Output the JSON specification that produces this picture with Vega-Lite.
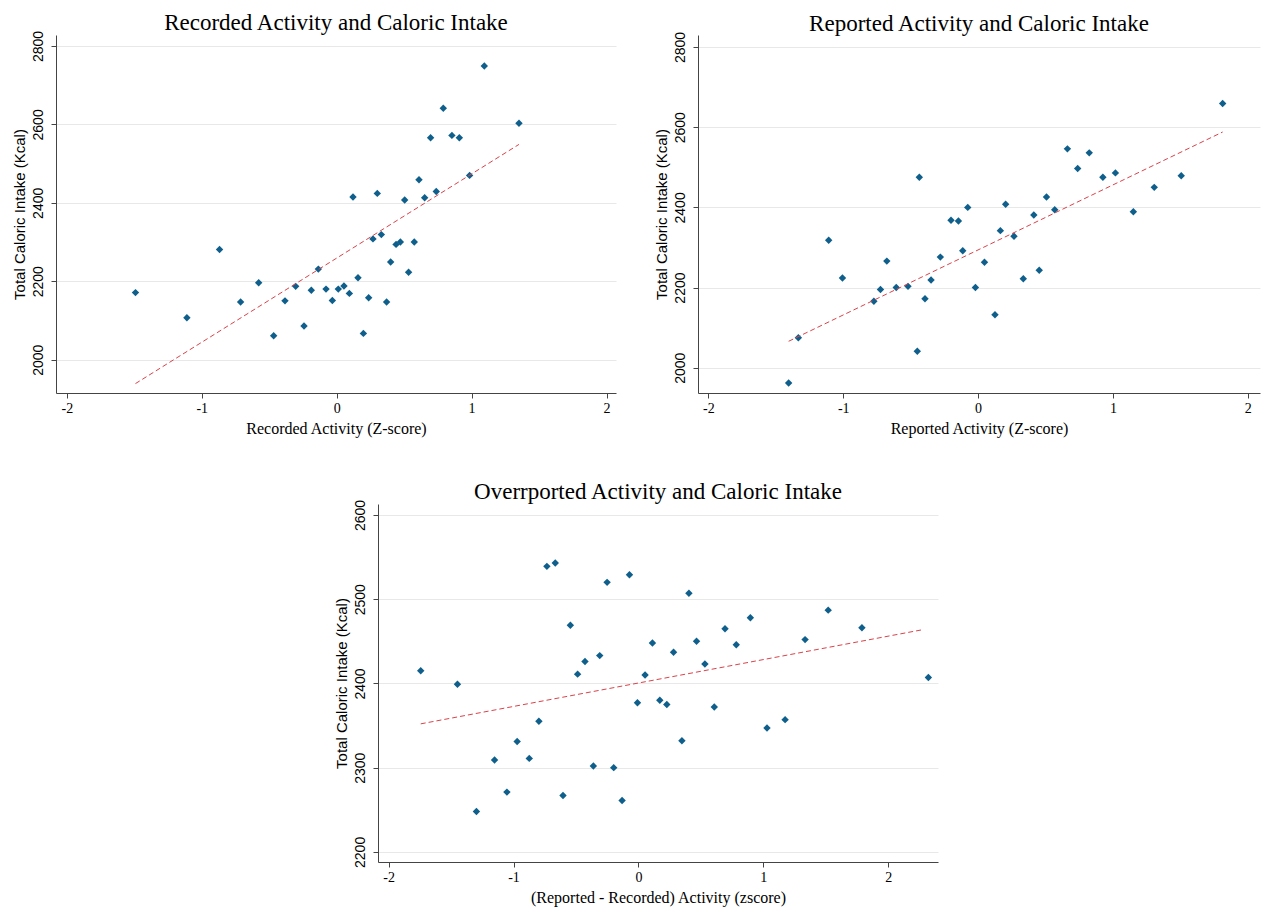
{
  "$schema": "https://vega.github.io/schema/vega-lite/v6.json",
  "background": "white",
  "padding": {"left": 12, "top": 12, "right": 2, "bottom": 2},
  "config": {
    "view": {"stroke": null},
    "axis": {"domainColor": "#444444", "tickColor": "#444444", "gridColor": "#e8e8e8", "labelColor": "#000000", "titleColor": "#000000", "titleFontWeight": "normal", "tickSize": 5},
    "axisX": {"labelFont": "Liberation Serif", "labelFontSize": 14, "titleFont": "Liberation Serif", "titleFontSize": 16, "grid": false, "labelPadding": 3, "titlePadding": 5},
    "axisY": {"labelFont": "Liberation Sans", "labelFontSize": 14, "titleFont": "Liberation Sans", "titleFontSize": 15, "labelAngle": -90, "labelAlign": "center", "labelBaseline": "bottom", "labelPadding": 6, "titlePadding": 4, "grid": true},
    "title": {"font": "Liberation Serif", "fontSize": 23, "fontWeight": "normal", "color": "#000000", "offset": -5, "frame": "group", "baseline": "alphabetic"}
  },
  "datasets": {
    "p1": [
      {"x": -1.491, "y": 2171}, {"x": -1.110, "y": 2107}, {"x": -0.868, "y": 2281}, {"x": -0.712, "y": 2147}, {"x": -0.578, "y": 2196},
      {"x": -0.467, "y": 2061}, {"x": -0.383, "y": 2150}, {"x": -0.304, "y": 2187}, {"x": -0.242, "y": 2086}, {"x": -0.188, "y": 2177},
      {"x": -0.136, "y": 2231}, {"x": -0.079, "y": 2180}, {"x": -0.032, "y": 2151}, {"x": 0.012, "y": 2180}, {"x": 0.054, "y": 2188},
      {"x": 0.094, "y": 2169}, {"x": 0.158, "y": 2209}, {"x": 0.121, "y": 2415}, {"x": 1.094, "y": 2749}, {"x": 0.790, "y": 2641},
      {"x": 1.351, "y": 2603}, {"x": 0.696, "y": 2566}, {"x": 0.854, "y": 2572}, {"x": 0.909, "y": 2566}, {"x": 0.610, "y": 2459},
      {"x": 0.985, "y": 2470}, {"x": 0.738, "y": 2429}, {"x": 0.301, "y": 2424}, {"x": 0.504, "y": 2407}, {"x": 0.652, "y": 2413},
      {"x": 0.331, "y": 2319}, {"x": 0.269, "y": 2308}, {"x": 0.440, "y": 2294}, {"x": 0.472, "y": 2300}, {"x": 0.575, "y": 2300},
      {"x": 0.400, "y": 2249}, {"x": 0.533, "y": 2223}, {"x": 0.237, "y": 2158}, {"x": 0.370, "y": 2147}, {"x": 0.198, "y": 2067}
    ],
    "f1": [{"x": -1.491, "y": 1939}, {"x": 1.351, "y": 2549}],
    "p2": [
      {"x": -1.405, "y": 1962}, {"x": -1.333, "y": 2075}, {"x": -1.108, "y": 2318}, {"x": -1.006, "y": 2224}, {"x": -0.773, "y": 2166},
      {"x": -0.724, "y": 2195}, {"x": -0.677, "y": 2266}, {"x": -0.607, "y": 2200}, {"x": -0.520, "y": 2203}, {"x": -0.436, "y": 2475},
      {"x": -0.451, "y": 2041}, {"x": -0.394, "y": 2172}, {"x": -0.349, "y": 2219}, {"x": -0.280, "y": 2276}, {"x": -0.201, "y": 2368},
      {"x": -0.146, "y": 2366}, {"x": -0.114, "y": 2292}, {"x": -0.077, "y": 2400}, {"x": -0.020, "y": 2200}, {"x": 1.813, "y": 2659},
      {"x": 0.662, "y": 2546}, {"x": 0.824, "y": 2536}, {"x": 0.738, "y": 2497}, {"x": 0.925, "y": 2475}, {"x": 1.018, "y": 2486},
      {"x": 1.506, "y": 2479}, {"x": 1.306, "y": 2450}, {"x": 1.151, "y": 2389}, {"x": 0.507, "y": 2426}, {"x": 0.568, "y": 2394},
      {"x": 0.413, "y": 2381}, {"x": 0.204, "y": 2408}, {"x": 0.165, "y": 2342}, {"x": 0.266, "y": 2328}, {"x": 0.047, "y": 2263},
      {"x": 0.453, "y": 2243}, {"x": 0.335, "y": 2222}, {"x": 0.125, "y": 2132}
    ],
    "f2": [{"x": -1.405, "y": 2066}, {"x": 1.813, "y": 2588}],
    "p3": [
      {"x": -1.743, "y": 2415}, {"x": -1.449, "y": 2399}, {"x": -1.297, "y": 2248}, {"x": -1.152, "y": 2309}, {"x": -1.053, "y": 2271},
      {"x": -0.971, "y": 2331}, {"x": -0.874, "y": 2311}, {"x": -0.797, "y": 2355}, {"x": -0.733, "y": 2539}, {"x": -0.666, "y": 2543},
      {"x": -0.604, "y": 2267}, {"x": -0.545, "y": 2469}, {"x": -0.487, "y": 2411}, {"x": -0.428, "y": 2426}, {"x": -0.361, "y": 2302},
      {"x": -0.310, "y": 2433}, {"x": -0.251, "y": 2520}, {"x": -0.198, "y": 2300}, {"x": -0.131, "y": 2261}, {"x": -0.072, "y": 2529},
      {"x": -0.008, "y": 2377}, {"x": 0.053, "y": 2410}, {"x": 0.112, "y": 2448}, {"x": 0.171, "y": 2380}, {"x": 0.227, "y": 2375},
      {"x": 0.281, "y": 2437}, {"x": 0.348, "y": 2332}, {"x": 0.404, "y": 2507}, {"x": 0.465, "y": 2450}, {"x": 0.532, "y": 2423},
      {"x": 0.607, "y": 2372}, {"x": 0.693, "y": 2465}, {"x": 0.783, "y": 2446}, {"x": 0.896, "y": 2478}, {"x": 1.029, "y": 2347},
      {"x": 1.174, "y": 2357}, {"x": 1.334, "y": 2452}, {"x": 1.519, "y": 2487}, {"x": 1.789, "y": 2466}, {"x": 2.321, "y": 2407}
    ],
    "f3": [{"x": -1.743, "y": 2352}, {"x": 2.283, "y": 2464}]
  },
  "vconcat": [
    {
      "hconcat": [
        {
          "title": "Recorded Activity and Caloric Intake",
          "width": 560, "height": 358,
          "encoding": {
            "x": {"field": "x", "type": "quantitative", "scale": {"domain": [-2.08, 2.07], "nice": false, "zero": false}, "axis": {"values": [-2, -1, 0, 1, 2], "labelExpr": "'' + datum.value", "title": "Recorded Activity (Z-score)"}},
            "y": {"field": "y", "type": "quantitative", "scale": {"domain": [1915, 2828], "nice": false, "zero": false}, "axis": {"values": [2000, 2200, 2400, 2600, 2800], "format": "d", "title": "Total Caloric Intake (Kcal)"}}
          },
          "layer": [
            {"data": {"name": "p1"}, "mark": {"type": "point", "shape": "diamond", "filled": true, "size": 55, "color": "#0f5f8c", "opacity": 1}},
            {"data": {"name": "f1"}, "mark": {"type": "line", "color": "#d9434a", "strokeWidth": 1, "strokeDash": [5, 3]}}
          ]
        },
        {
          "title": "Reported Activity and Caloric Intake",
          "width": 562, "height": 358,
          "encoding": {
            "x": {"field": "x", "type": "quantitative", "scale": {"domain": [-2.077, 2.09], "nice": false, "zero": false}, "axis": {"values": [-2, -1, 0, 1, 2], "labelExpr": "'' + datum.value", "title": "Reported Activity (Z-score)"}},
            "y": {"field": "y", "type": "quantitative", "scale": {"domain": [1937, 2830], "nice": false, "zero": false}, "axis": {"values": [2000, 2200, 2400, 2600, 2800], "format": "d", "title": "Total Caloric Intake (Kcal)"}}
          },
          "layer": [
            {"data": {"name": "p2"}, "mark": {"type": "point", "shape": "diamond", "filled": true, "size": 55, "color": "#0f5f8c", "opacity": 1}},
            {"data": {"name": "f2"}, "mark": {"type": "line", "color": "#d9434a", "strokeWidth": 1, "strokeDash": [5, 3]}}
          ]
        }
      ],
      "spacing": 82,
      "bounds": "flush"
    },
    {
      "title": "Overrported Activity and Caloric Intake",
      "width": 560, "height": 358,
      "encoding": {
        "x": {"field": "x", "type": "quantitative", "scale": {"domain": [-2.085, 2.398], "nice": false, "zero": false}, "axis": {"values": [-2, -1, 0, 1, 2], "labelExpr": "'' + datum.value", "title": "(Reported - Recorded) Activity (zscore)"}},
        "y": {"field": "y", "type": "quantitative", "scale": {"domain": [2188, 2613], "nice": false, "zero": false}, "axis": {"values": [2200, 2300, 2400, 2500, 2600], "format": "d", "title": "Total Caloric Intake (Kcal)"}}
      },
      "layer": [
        {"data": {"name": "p3"}, "mark": {"type": "point", "shape": "diamond", "filled": true, "size": 55, "color": "#0f5f8c", "opacity": 1}},
        {"data": {"name": "f3"}, "mark": {"type": "line", "color": "#d9434a", "strokeWidth": 1, "strokeDash": [5, 3]}}
      ]
    }
  ],
  "spacing": 45,
  "center": true
}
